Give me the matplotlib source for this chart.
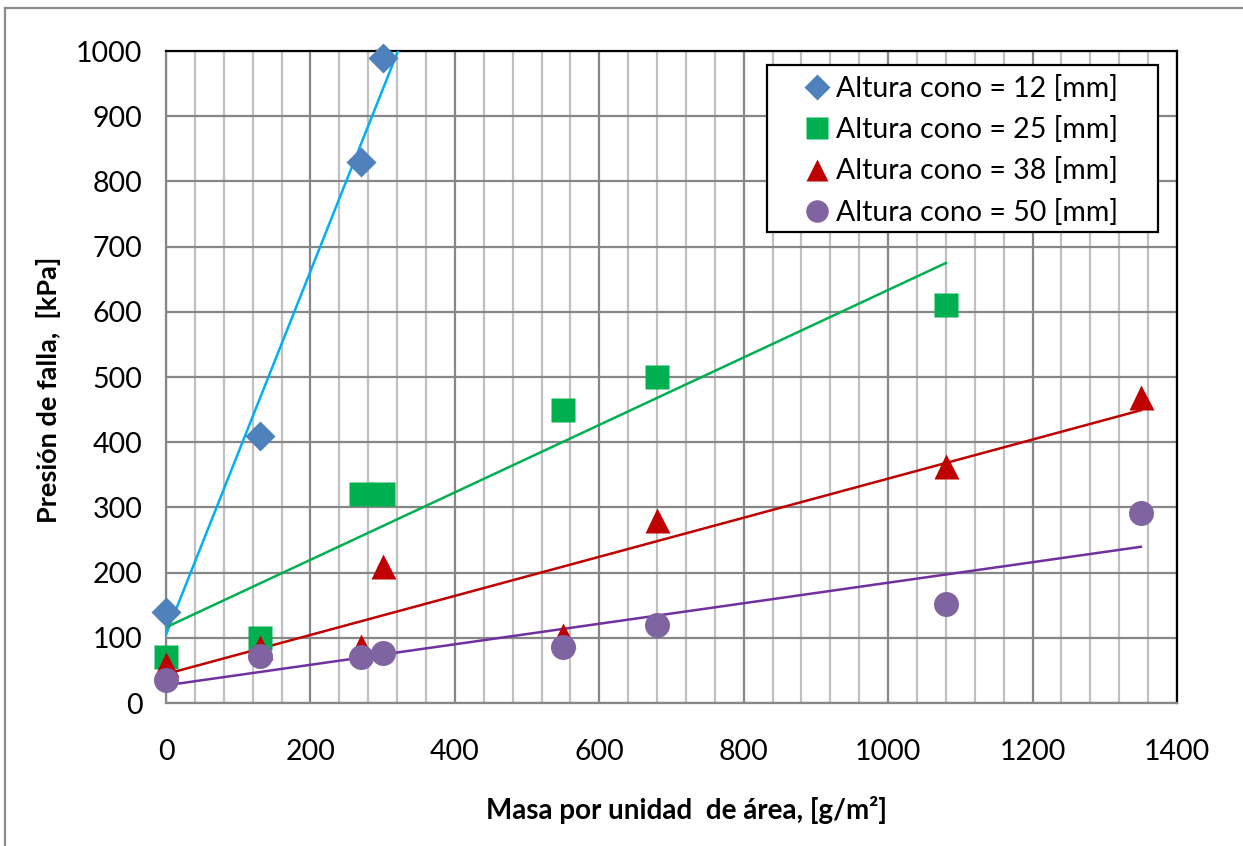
import numpy as np
import matplotlib
matplotlib.use("Agg")
import matplotlib.pyplot as plt
from matplotlib.lines import Line2D
from matplotlib.patches import Rectangle

plt.rcParams['font.family'] = ['Lato', 'DejaVu Sans']

# Data
x12 = [0, 130, 270, 300]
y12 = [140, 410, 830, 990]
x25 = [0, 130, 270, 300, 550, 680, 1080]
y25 = [70, 100, 320, 320, 450, 500, 610]
x38 = [0, 130, 270, 300, 550, 680, 1080, 1350]
y38 = [60, 86, 88, 210, 105, 280, 363, 470]
x50 = [0, 130, 270, 300, 550, 680, 1080, 1350]
y50 = [35, 72, 70, 77, 86, 120, 152, 291]
labels = ["Altura cono = 12 [mm]", "Altura cono = 25 [mm]",
          "Altura cono = 38 [mm]", "Altura cono = 50 [mm]"]
xticks = [0, 200, 400, 600, 800, 1000, 1200, 1400]
yticks = [0, 100, 200, 300, 400, 500, 600, 700, 800, 900, 1000]

fig = plt.figure(figsize=(12.43, 8.46), dpi=100)
W, H = 1243, 846
ax = fig.add_axes([166 / W, 1 - 703 / H, (1177 - 166) / W, (703 - 51) / H])

# outer chart border (top and left visible)
fig.add_artist(Line2D([5 / W, 5 / W], [0, 1 - 8 / H], color='#8c8c8c', lw=1.6,
                      transform=fig.transFigure))
fig.add_artist(Line2D([5 / W, 1], [1 - 8 / H, 1 - 8 / H], color='#8c8c8c', lw=1.6,
                      transform=fig.transFigure))

ax.set_xlim(0, 1400)
ax.set_ylim(0, 1000)

# grid
for xv in np.arange(0, 1401, 40):
    if xv % 200 == 0:
        ax.axvline(xv, color='#878787', lw=1.6, zorder=1)
    else:
        ax.axvline(xv, color='#c0c0c0', lw=1.6, zorder=0.9)
for yv in yticks:
    ax.axhline(yv, color='#878787', lw=1.6, zorder=1)

for s in ['left', 'bottom']:
    ax.spines[s].set_color('#878787')
    ax.spines[s].set_linewidth(1.6)
for s in ['top', 'right']:
    ax.spines[s].set_color('black')
    ax.spines[s].set_linewidth(1.6)

# trend lines
def trend(xs, ys, x_end, color):
    m, b = np.polyfit(xs, ys, 1)
    xx = np.array([0, x_end])
    ax.plot(xx, m * xx + b, color=color, lw=1.8, zorder=3, clip_on=True)

trend(x12, y12, 340, '#00b0f0')
trend(x25, y25, 1080, '#00b050')
trend(x38, y38, 1350, '#c00000')
trend(x50, y50, 1350, '#7030a0')

h1, = ax.plot(x12, y12, 'D', color='#4f81bd', ms=15, mec='none', zorder=4, clip_on=False)
h2, = ax.plot(x25, y25, 's', color='#00b050', ms=17.5, mec='none', zorder=4, clip_on=False)
h3, = ax.plot(x38, y38, '^', color='#c00000', ms=18, mec='none', zorder=4, clip_on=False)
h4, = ax.plot(x50, y50, 'o', color='#8064a2', ms=18, mec='none', zorder=4, clip_on=False)

ax.set_xticks(xticks)
ax.set_yticks(yticks)
ax.tick_params(axis='both', length=0, labelsize=20.5, colors='black')
ax.tick_params(axis='x', pad=26)
ax.tick_params(axis='y', pad=17)

ax.set_xlabel("Masa por unidad  de área, [g/m²]", fontsize=20, fontweight='bold')
ax.xaxis.set_label_coords(0.515, -0.143)
ax.set_ylabel("Presión de falla,  [kPa]", fontsize=19.5, fontweight='bold')
ax.yaxis.set_label_coords(-0.104, 0.48)

# legend frame drawn separately for exact placement
frame = Rectangle((767 / W, 1 - 232 / H), (1158 - 767) / W, (232 - 65) / H,
                  transform=fig.transFigure, facecolor='white', edgecolor='black',
                  lw=1.6, zorder=5)
fig.add_artist(frame)
leg = fig.legend([h1, h2, h3, h4], labels, loc='upper left',
                 bbox_to_anchor=(803 / W, 1 - 75 / H), bbox_transform=fig.transFigure,
                 fontsize=20.5, frameon=False, handletextpad=0.15,
                 handlelength=1.0, labelspacing=0.5, borderpad=0,
                 markerscale=0.9, borderaxespad=0)
leg.set_zorder(6)

fig.savefig("out.png", dpi=100, facecolor='white')
